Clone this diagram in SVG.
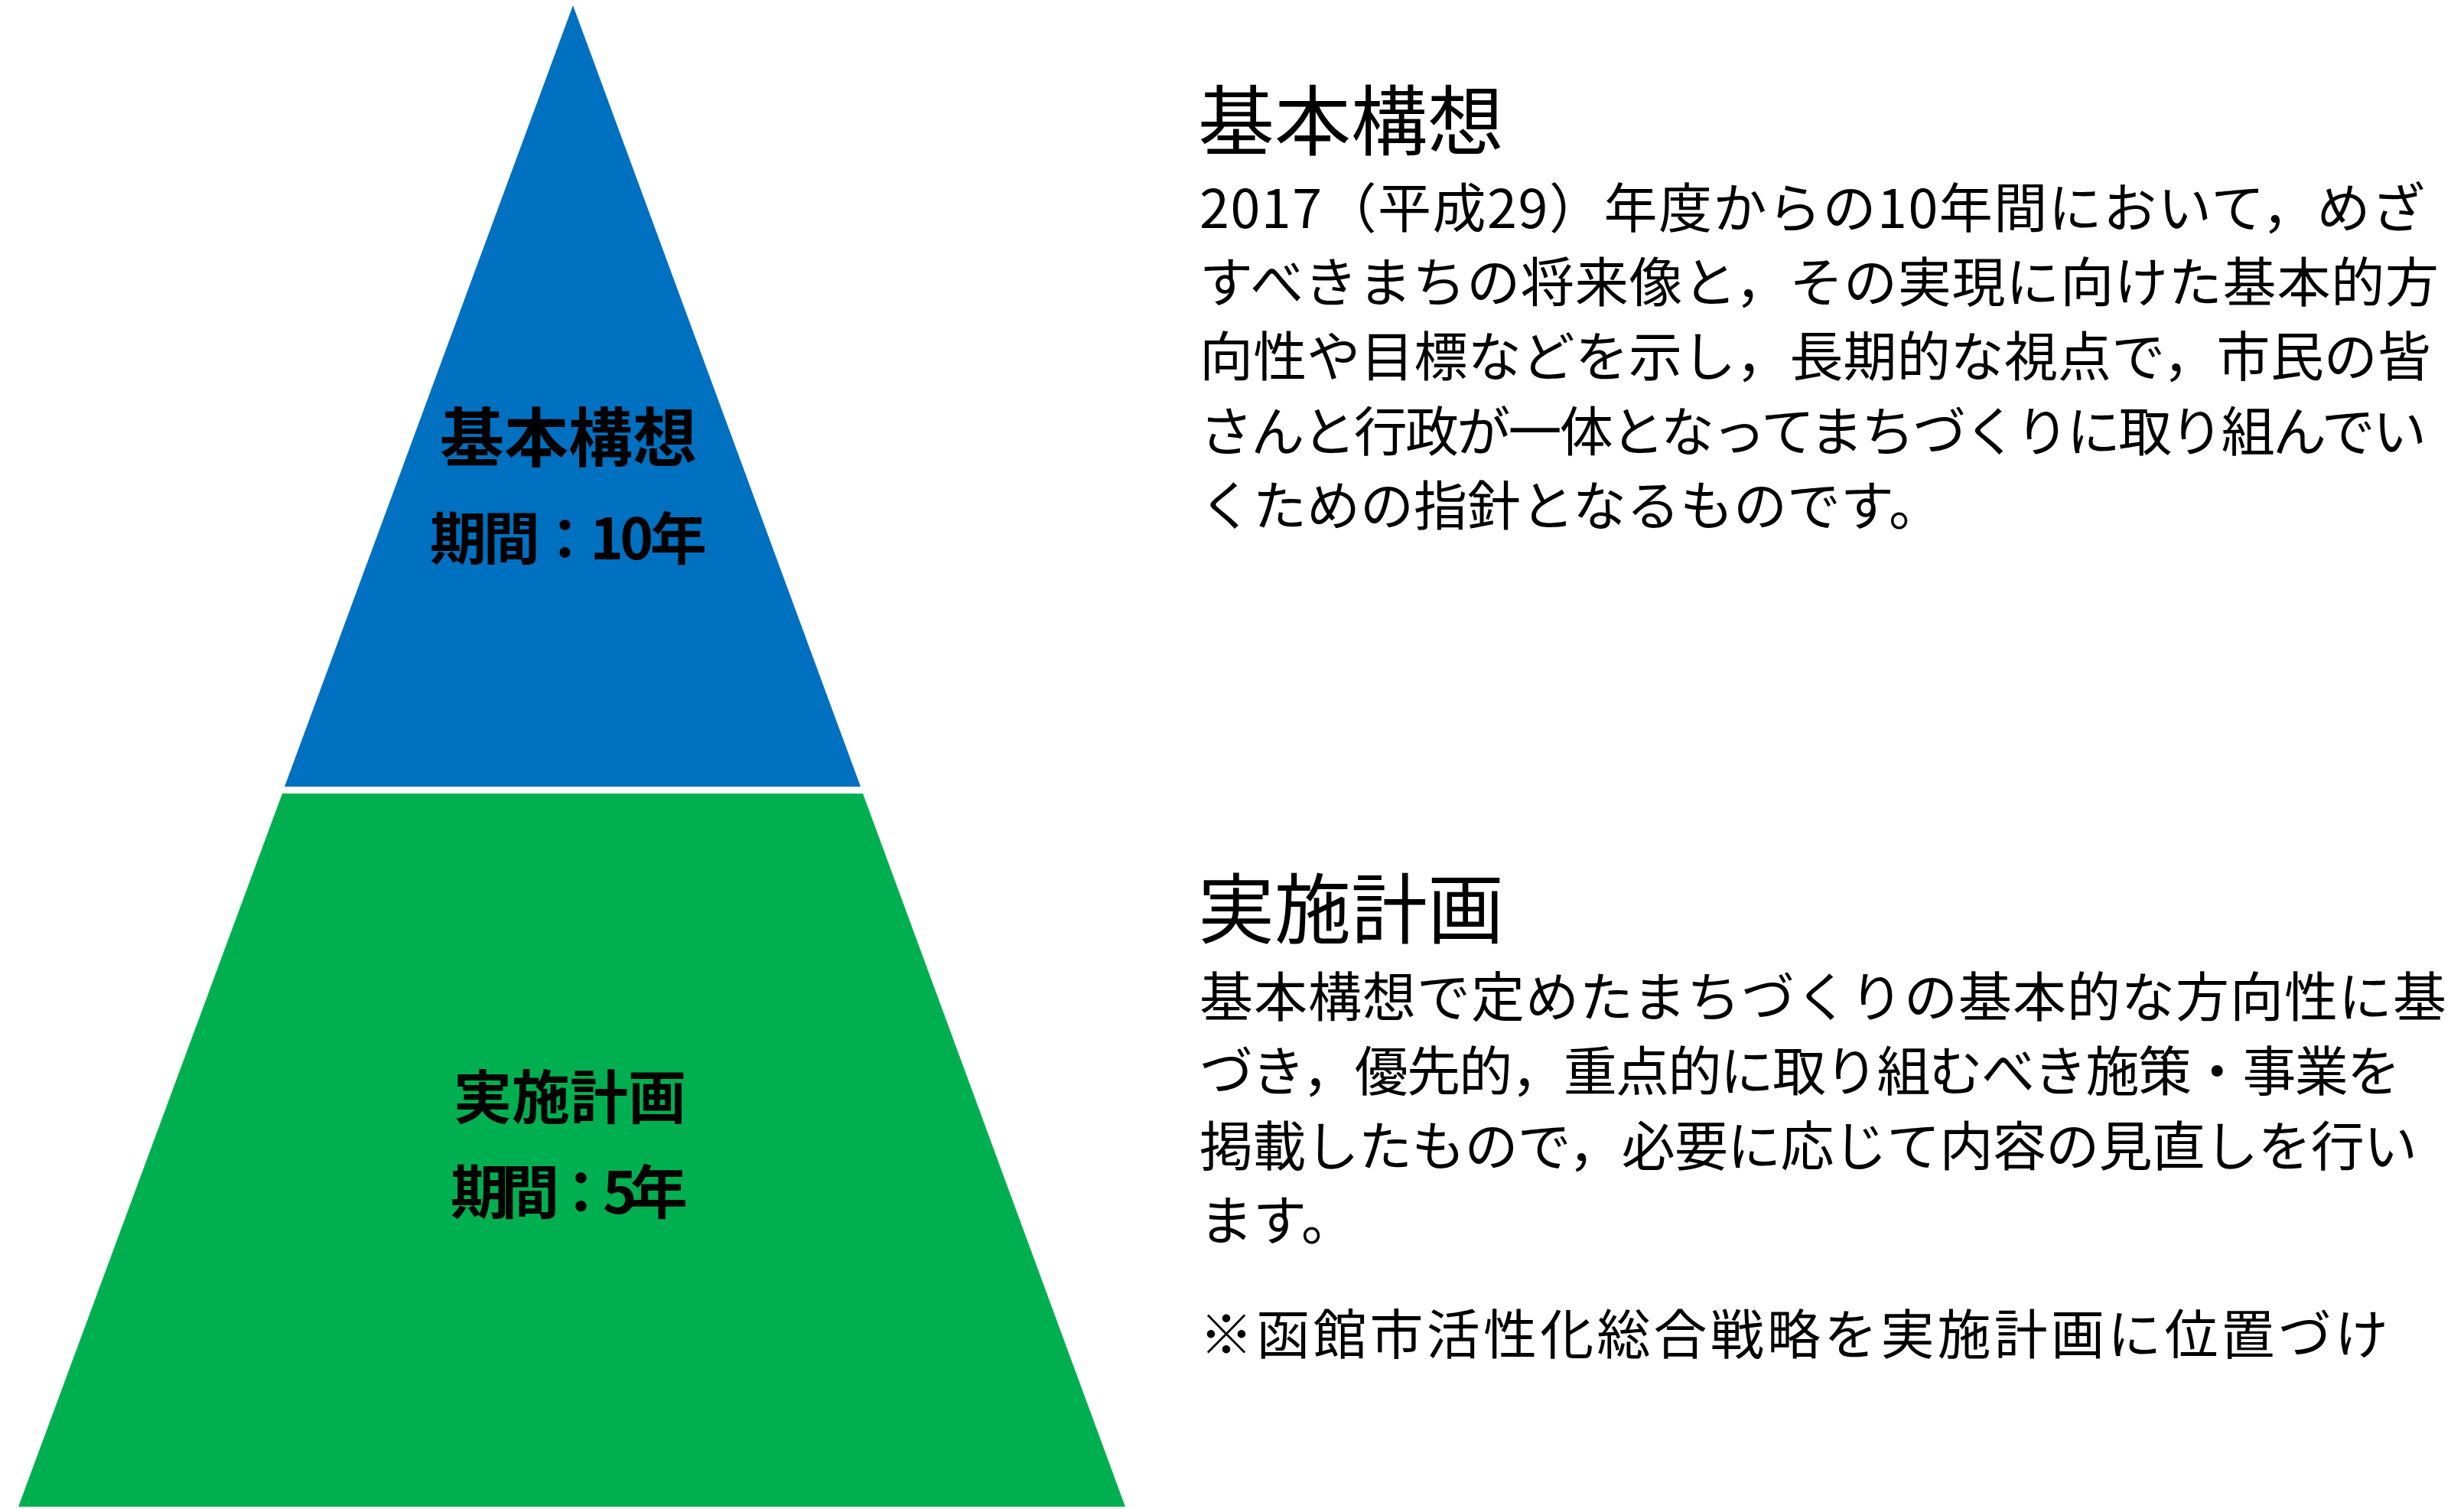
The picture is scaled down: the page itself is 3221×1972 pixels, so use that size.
<svg xmlns="http://www.w3.org/2000/svg" width="3221" height="1972" viewBox="0 0 3221 1972">
<style>
  text { font-family: "Noto Sans CJK JP", "Noto Sans", sans-serif; fill: #000; }
  .lbl { font-weight: 700; text-anchor: middle; }
  .head { font-size: 100px; }
  .body { font-size: 70px; }
</style>
<rect x="0" y="0" width="3221" height="1972" fill="#FFFFFF"/>
<g id="connectors"/>
<g id="node-kihonkoso">
  <polygon points="749,7 1125,1028 372,1028" fill="#0070C0"/>
  <text class="lbl" x="743" y="603" font-size="84">基本構想</text>
  <text class="lbl" x="743" y="731" font-size="74" textLength="362" lengthAdjust="spacing">期間：10年</text>
</g>
<g id="node-jisshikeikaku">
  <polygon points="369,1037 1128,1037 1471,1969 24,1969" fill="#00B050"/>
  <text class="lbl" x="745" y="1462" font-size="76">実施計画</text>
  <text class="lbl" x="744" y="1586" font-size="76" textLength="310" lengthAdjust="spacing">期間：5年</text>
</g>
<g id="desc-kihonkoso">
  <text class="head" x="1566" y="195">基本構想</text>
  <text class="body" x="1568" y="298" textLength="1602" lengthAdjust="spacing">2017（平成29）年度からの10年間において，めざ</text>
  <text class="body" x="1568" y="395" textLength="1620" lengthAdjust="spacing">すべきまちの将来像と，その実現に向けた基本的方</text>
  <text class="body" x="1568" y="492" textLength="1610" lengthAdjust="spacing">向性や目標などを示し，長期的な視点で，市民の皆</text>
  <text class="body" x="1568" y="590" textLength="1604" lengthAdjust="spacing">さんと行政が一体となってまちづくりに取り組んでい</text>
  <text class="body" x="1568" y="687">くための指針となるものです。</text>
</g>
<g id="desc-jisshikeikaku">
  <text class="head" x="1566" y="1225">実施計画</text>
  <text class="body" x="1568" y="1329" textLength="1630" lengthAdjust="spacing">基本構想で定めたまちづくりの基本的な方向性に基</text>
  <text class="body" x="1568" y="1426" textLength="1570" lengthAdjust="spacing">づき，優先的，重点的に取り組むべき施策・事業を</text>
  <text class="body" x="1568" y="1524" textLength="1592" lengthAdjust="spacing">掲載したもので，必要に応じて内容の見直しを行い</text>
  <text class="body" x="1568" y="1621">ます。</text>
  <text class="body" x="1568" y="1770" textLength="1554" lengthAdjust="spacing">※函館市活性化総合戦略を実施計画に位置づけ</text>
</g>
</svg>
